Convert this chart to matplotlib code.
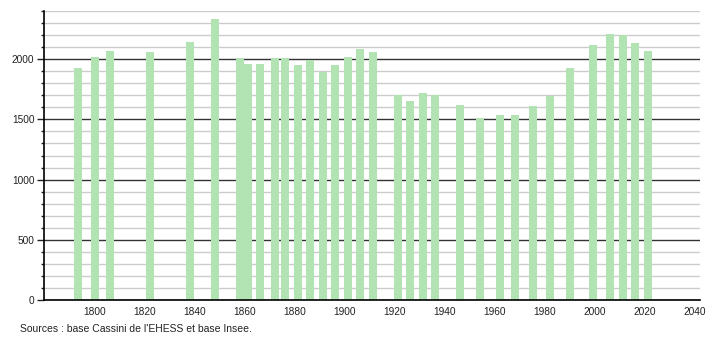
import matplotlib.pyplot as plt
from matplotlib.ticker import MultipleLocator

# population par recensement
annees = [1793, 1800, 1806, 1822, 1838, 1848, 1858, 1861, 1866, 1872, 1876,
          1881, 1886, 1891, 1896, 1901, 1906, 1911, 1921, 1926, 1931, 1936,
          1946, 1954, 1962, 1968, 1975, 1982, 1990, 1999, 2006, 2011, 2016,
          2021]
population = [1927, 2019, 2069, 2061, 2144, 2336, 2008, 1961, 1961, 2008, 2008,
              1953, 1994, 1897, 1953, 2019, 2086, 2061, 1700, 1652, 1719, 1700,
              1619, 1511, 1536, 1536, 1611, 1694, 1927, 2119, 2211, 2200, 2136,
              2067]

x_ticks = list(range(1800, 2041, 20))
y_ticks = list(range(0, 2001, 500))
source = "Sources : base Cassini de l'EHESS et base Insee."

plt.rcParams['font.family'] = ['Liberation Sans', 'DejaVu Sans']

fig = plt.figure(figsize=(7.1, 3.4), dpi=100)
ax = fig.add_axes([44 / 710, 1 - 300 / 340, 656 / 710, 289 / 340])

ax.bar(annees, population, width=3.2, color='#b2e3b2', zorder=3)

ax.set_xlim(1779.6, 2042)
ax.set_ylim(0, 2400)

ax.set_xticks(x_ticks)
ax.set_yticks(y_ticks)
ax.yaxis.set_minor_locator(MultipleLocator(100))
ax.grid(axis='y', which='minor', color='#cccccc', linewidth=1, zorder=1)
ax.grid(axis='y', which='major', color='#333333', linewidth=1, zorder=2)

for s in ['top', 'right']:
    ax.spines[s].set_visible(False)
ax.spines['left'].set_linewidth(1.2)
ax.spines['bottom'].set_linewidth(1.2)
ax.spines['left'].set_zorder(4)
ax.spines['bottom'].set_zorder(4)

ax.tick_params(axis='x', length=0, labelsize=7.3, pad=5, colors='#222222')
ax.tick_params(axis='y', which='major', length=5, width=1, labelsize=7.3,
               pad=2, colors='#222222')
ax.tick_params(axis='y', which='minor', length=2.5, width=1, colors='#222222')

fig.text(20 / 710, 1 - 329 / 340, source, fontsize=7.5, color='#222222',
         va='center', ha='left')

plt.savefig("out.png", dpi=100)
